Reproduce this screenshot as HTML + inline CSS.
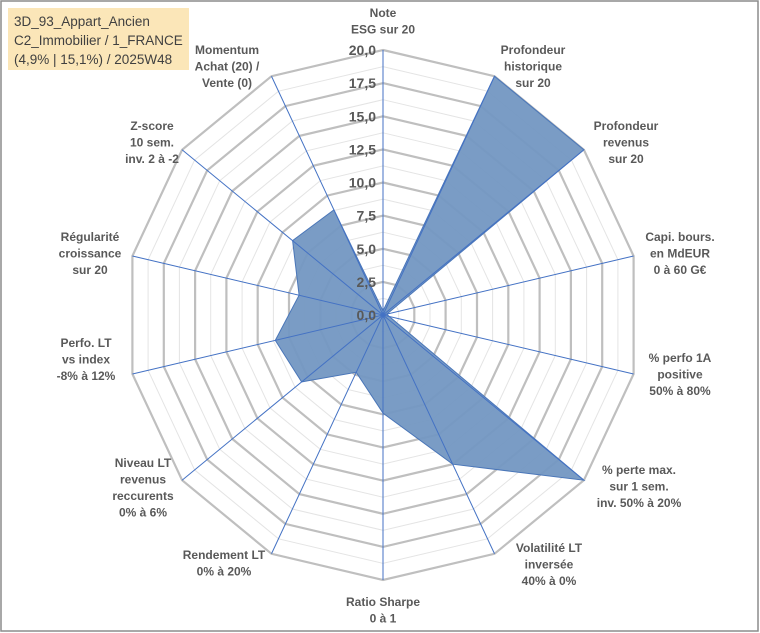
<!DOCTYPE html>
<html><head><meta charset="utf-8"><style>
body{margin:0;background:#fff;}
#wrap{position:relative;width:760px;height:633px;overflow:hidden;font-family:"Liberation Sans",Arial,sans-serif;}
svg text{font-family:"Liberation Sans",Arial,sans-serif;}
</style></head><body>
<div id="wrap">
<svg id="chart" width="760" height="633"></svg>
</div>
<script>
const categories = [
 ["Note","ESG sur 20"],
 ["Profondeur","historique","sur 20"],
 ["Profondeur","revenus","sur 20"],
 ["Capi. bours.","en MdEUR","0 à 60 G€"],
 ["% perfo 1A","positive","50% à 80%"],
 ["% perte max.","sur 1 sem.","inv. 50% à 20%"],
 ["Volatilité LT","inversée","40% à 0%"],
 ["Ratio Sharpe","0 à 1"],
 ["Rendement LT","0% à 20%"],
 ["Niveau LT","revenus","reccurents","0% à 6%"],
 ["Perfo. LT","vs index","-8% à 12%"],
 ["Régularité","croissance","sur 20"],
 ["Z-score","10 sem.","inv. 2 à -2"],
 ["Momentum","Achat (20) /","Vente (0)"]
];
const values = [0.3,20,20,0.3,0.5,20,12.5,7.4,4.8,8.1,8.6,6.7,9.0,8.8];
const tickLabels = ["0,0","2,5","5,0","7,5","10,0","12,5","15,0","17,5","20,0"];
const maxVal = 20;

const NS="http://www.w3.org/2000/svg";
const svg=document.getElementById('chart');
const cx=383, cy=315, RX=257, RY=265;
const N=categories.length;
function ang(i){return i*2*Math.PI/N;}
function px(i,v){return cx+Math.sin(ang(i))*RX*v/maxVal;}
function py(i,v){return cy-Math.cos(ang(i))*RY*v/maxVal;}
function mk(tag,attrs){const e=document.createElementNS(NS,tag);for(const k in attrs)e.setAttribute(k,attrs[k]);svg.appendChild(e);return e;}

// border
let b=mk('rect',{x:1,y:1,width:757,height:630,fill:'#fff',stroke:'#8c8c8c','stroke-width':1.5});



// minor rings
for(let k=1;k<16;k+=2){
 const v=k*1.25;
 const pts=categories.map((c,i)=>px(i,v).toFixed(1)+','+py(i,v).toFixed(1)).join(' ');
 const p=mk('polygon',{points:pts,fill:'none',stroke:'#e4e4e4','stroke-width':1});
 
 
}
// major rings
tickLabels.forEach((t,k)=>{
 if(k===0)return;
 const v=k*2.5;
 const pts=categories.map((c,i)=>px(i,v).toFixed(1)+','+py(i,v).toFixed(1)).join(' ');
 const p=mk('polygon',{points:pts,fill:'none',stroke:'#bfbfbf','stroke-width':2.2});
 
 
});
// series
const spts=values.map((v,i)=>px(i,v).toFixed(1)+','+py(i,v).toFixed(1)).join(' ');
const ser=mk('polygon',{points:spts,fill:'#7397c2',stroke:'#4a76b8','stroke-width':1,'fill-opacity':0.95});


// axes
categories.forEach((c,i)=>{
 const l=mk('line',{x1:cx,y1:cy,x2:px(i,maxVal),y2:py(i,maxVal),stroke:'#4472c4','stroke-width':1});
 
 
});
// tick labels
tickLabels.forEach((t,k)=>{
 const tx=mk('text',{x:cx-7,y:py(0,k*2.5)+5,'text-anchor':'end','font-size':14,'font-weight':'bold',fill:'#595959'});
 tx.textContent=t;
 
 
});
// category labels
const labelPos=[[383,13],[533,50],[626,126],[680,237],[680,358],[639,470],[549,548],[383,602],[224,555],[143,463],[86,343],[90,237],[152,126],[227,50]];
categories.forEach((lines,i)=>{
 const [lx,ly]=labelPos[i];
 const t=mk('text',{x:lx,y:ly+4,'text-anchor':'middle','font-size':12,'font-weight':'bold',fill:'#595959'});
 
 
 lines.forEach((s,j)=>{
  const ts=document.createElementNS(NS,'tspan');
  ts.setAttribute('x',lx);ts.setAttribute('y',ly+4+j*16.5);
  ts.textContent=s;t.appendChild(ts);
 });
});
// title box
const tb=mk('rect',{x:8,y:8,width:181,height:62,fill:'#fbe6b8'});


const tt=mk('text',{x:14,y:26,'font-size':13.5,fill:'#404040'});


["3D_93_Appart_Ancien","C2_Immobilier / 1_FRANCE","(4,9% | 15,1%) / 2025W48"].forEach((s,j)=>{
 const ts=document.createElementNS(NS,'tspan');
 ts.setAttribute('x',14);ts.setAttribute('y',26+j*19);ts.textContent=s;tt.appendChild(ts);
});
</script>
</body></html>
